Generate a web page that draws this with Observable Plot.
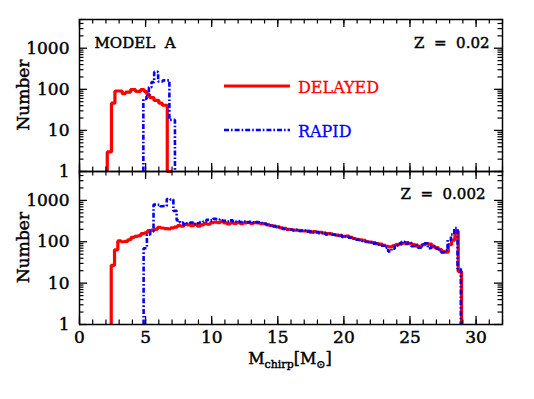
<!DOCTYPE html>
<html><head><meta charset="utf-8">
<script src="https://cdn.jsdelivr.net/npm/d3@7"></script>
<script src="https://cdn.jsdelivr.net/npm/@observablehq/plot@0.6"></script>
<style>
body{margin:0;background:#fff;}
#wrap{position:relative;width:534px;height:399px;font-family:"DejaVu Serif",serif;background:#fff;}
#wrap > svg{position:absolute;left:0;}
#wrap text{stroke:currentColor;stroke-width:0.45px;}
</style></head><body><div id="wrap"></div>
<script>
// ---- tick labels ----
const xMajor = [0, 5, 10, 15, 20, 25, 30];
const xMinor = d3.range(0, 33, 1);
const yMajor = [1, 10, 100, 1000];
const yMinor = [1, 10, 100, 1000].flatMap(d => d3.range(2, 10).map(k => k * d)).filter(v => v <= 5000);

// ---- top panel (Z = 0.02) ----
const topDelayedEdges = [2.1, 2.42, 2.68, 3.23, 3.48, 3.86, 4.24, 4.62, 4.9, 5.1, 5.3, 5.63, 6.0, 6.26, 6.64, 7.0];
const topDelayedCounts = [3, 46, 91, 78, 85, 98, 89, 98, 88, 75, 63, 54, 46, 41, 1];
const topRapidEdges = [4.83, 5.07, 5.25, 5.45, 5.65, 5.95, 6.3, 6.8, 7.22];
const topRapidCounts = [58, 68, 112, 150, 265, 155, 165, 18];

// ---- bottom panel (Z = 0.002), bins of 0.25 ----
const binWidth = 0.25;
const botDelayedStart = 2.4;
const botDelayedCounts = [
  27, 64, 105, 100, 102, 112, 128, 135, 140, 158,
  165, 185, 192, 200, 222, 215, 208, 205, 218, 225,
  245, 238, 262, 255, 245, 262, 240, 255, 275, 265,
  290, 300, 290, 305, 285, 270, 285, 280, 290, 275,
  285, 295, 280, 290, 285, 275, 270, 255, 245, 235,
  230, 215, 210, 200, 198, 192, 190, 185, 182, 180,
  172, 175, 168, 170, 162, 158, 155, 150, 145, 140,
  135, 138, 128, 120, 115, 112, 108, 100, 98, 95,
  90, 88, 82, 78, 75, 80, 85, 88, 92, 95,
  90, 85, 80, 78, 85, 90, 88, 75, 72, 65,
  58, 56, 85, 110, 180, 19
];
const botRapidStart = 4.85;
const botRapidCounts = [
  70, 150, 178, 790, 780, 720, 730, 1080, 1050, 560,
  330, 290, 262, 280, 290, 265, 280, 300, 310, 340,
  330, 360, 345, 330, 320, 310, 330, 305, 315, 300,
  310, 295, 305, 290, 300, 285, 275, 262, 250, 240,
  228, 218, 205, 200, 195, 190, 195, 182, 188, 175,
  178, 168, 172, 160, 165, 150, 158, 148, 140, 145,
  130, 135, 125, 118, 112, 110, 104, 100, 96, 90,
  92, 85, 80, 72, 58, 68, 82, 90, 100, 88,
  95, 78, 85, 72, 82, 92, 70, 80, 70, 62,
  55, 62, 110, 150, 215, 22
];

const seriesNames = ["DELAYED", "RAPID"];
const seriesColors = ["#ff0000", "#0000ff"];
const rapidDash = "5,2,1.6,2";

function stepPoints(edges, counts) {
  const pts = [{x: edges[0], y: 1}];
  counts.forEach((c, i) => pts.push({x: edges[i], y: c}));
  pts.push({x: edges[edges.length - 1], y: 1});
  return pts;
}
function regularEdges(start, counts) {
  return d3.range(counts.length + 1).map(i => start + i * binWidth);
}

const W = 534, ML = 79, MR = 32;
const FW = W - ML - MR;
const MAJ = 8, MIN = 4.5;

function panel({delayed, rapid, fh, marginTop, marginBottom, zLabel, zdx, zdy, extra, showX}) {
  const marks = [
    Plot.line(delayed, {x: "x", y: "y", curve: "step-after", stroke: seriesColors[0], strokeWidth: 3.2, strokeLinecap: "butt", strokeLinejoin: "miter"}),
    Plot.line(rapid, {x: "x", y: "y", curve: "step-after", stroke: seriesColors[1], strokeWidth: 2.6, strokeDasharray: rapidDash, strokeLinecap: "butt", strokeLinejoin: "miter"}),
    // inward ticks, all four sides
    Plot.tickX(xMinor, {x: d => d, insetTop: fh - MIN, stroke: "black", strokeWidth: 1.2}),
    Plot.tickX(xMinor, {x: d => d, insetBottom: fh - MIN, stroke: "black", strokeWidth: 1.2}),
    Plot.tickX(xMajor, {x: d => d, insetTop: fh - MAJ, stroke: "black", strokeWidth: 1.3}),
    Plot.tickX(xMajor, {x: d => d, insetBottom: fh - MAJ, stroke: "black", strokeWidth: 1.3}),
    Plot.tickY(yMinor, {y: d => d, insetRight: FW - MIN, stroke: "black", strokeWidth: 1.2}),
    Plot.tickY(yMinor, {y: d => d, insetLeft: FW - MIN, stroke: "black", strokeWidth: 1.2}),
    Plot.tickY(yMajor, {y: d => d, insetRight: FW - MAJ, stroke: "black", strokeWidth: 1.3}),
    Plot.tickY(yMajor, {y: d => d, insetLeft: FW - MAJ, stroke: "black", strokeWidth: 1.3}),
    Plot.frame({stroke: "black", strokeWidth: 1.5}),
    Plot.axisY(yMajor, {anchor: "left", tickSize: 0, tickPadding: 10, fontSize: 17, label: null, tickFormat: d => String(d)}),
    Plot.text([zLabel], {frameAnchor: "top-right", dx: zdx, dy: zdy, lineAnchor: "top", fontSize: 15, fill: "black", text: d => d, style: "white-space:pre"}),
    ...extra
  ];
  if (showX) marks.push(Plot.axisX(xMajor, {anchor: "bottom", tickSize: 0, tickPadding: 6, fontSize: 17, label: null, tickFormat: d => String(d)}));
  return Plot.plot({
    width: W, height: fh + marginTop + marginBottom,
    marginLeft: ML, marginRight: MR, marginTop, marginBottom,
    style: {fontFamily: "DejaVu Serif", fontSize: "16px", background: "transparent", overflow: "visible"},
    x: {domain: [0, 32], axis: null},
    y: {type: "log", domain: [1, 5000], axis: null},
    marks
  });
}

const wrap = document.getElementById("wrap");

const topSvg = panel({
  delayed: stepPoints(topDelayedEdges, topDelayedCounts),
  rapid: stepPoints(topRapidEdges, topRapidCounts),
  fh: 152, marginTop: 19, marginBottom: 0,
  zLabel: "Z  =  0.02", zdx: -13, zdy: 18,
  extra: [Plot.text(["MODEL  A"], {frameAnchor: "top-left", dx: 15, dy: 18, lineAnchor: "top", fontSize: 15, fill: "black", text: d => d, style: "white-space:pre"})],
  showX: false
});
topSvg.style.top = "0px";
wrap.appendChild(topSvg);

const botSvg = panel({
  delayed: stepPoints(regularEdges(botDelayedStart, botDelayedCounts), botDelayedCounts),
  rapid: stepPoints(regularEdges(botRapidStart, botRapidCounts), botRapidCounts),
  fh: 153, marginTop: 0, marginBottom: 75,
  zLabel: "Z  =  0.002", zdx: -17, zdy: 17,
  extra: [],
  showX: true
});
botSvg.style.top = "171px";
wrap.appendChild(botSvg);

// ---- overlay: legend and axis titles ----
const ns = "http://www.w3.org/2000/svg";
const ov = document.createElementNS(ns, "svg");
ov.setAttribute("width", W); ov.setAttribute("height", 399);
ov.style.position = "absolute"; ov.style.top = "0px"; ov.style.left = "0px"; ov.style.pointerEvents = "none";
ov.setAttribute("font-family", "DejaVu Serif");
ov.innerHTML = `
  <line x1="224" x2="290" y1="86" y2="86" stroke="${seriesColors[0]}" stroke-width="3.2"/>
  <text x="298" y="93" font-size="16" fill="${seriesColors[0]}" style="color:${seriesColors[0]};stroke-width:0.3px">${seriesNames[0]}</text>
  <line x1="224" x2="290" y1="130" y2="130" stroke="${seriesColors[1]}" stroke-width="2.6" stroke-dasharray="${rapidDash}"/>
  <text x="298" y="137" font-size="16" fill="${seriesColors[1]}" style="color:${seriesColors[1]};stroke-width:0.3px">${seriesNames[1]}</text>
  <text transform="translate(29,95) rotate(-90)" text-anchor="middle" font-size="17">Number</text>
  <text transform="translate(29,247.5) rotate(-90)" text-anchor="middle" font-size="17">Number</text>
  <text x="290" y="364" text-anchor="middle" font-size="16">M<tspan font-size="11" dy="4">chirp</tspan><tspan dy="-4">[M</tspan><tspan font-size="11" dy="4">⊙</tspan><tspan dy="-4">]</tspan></text>
`;
wrap.appendChild(ov);
</script>
</body></html>
